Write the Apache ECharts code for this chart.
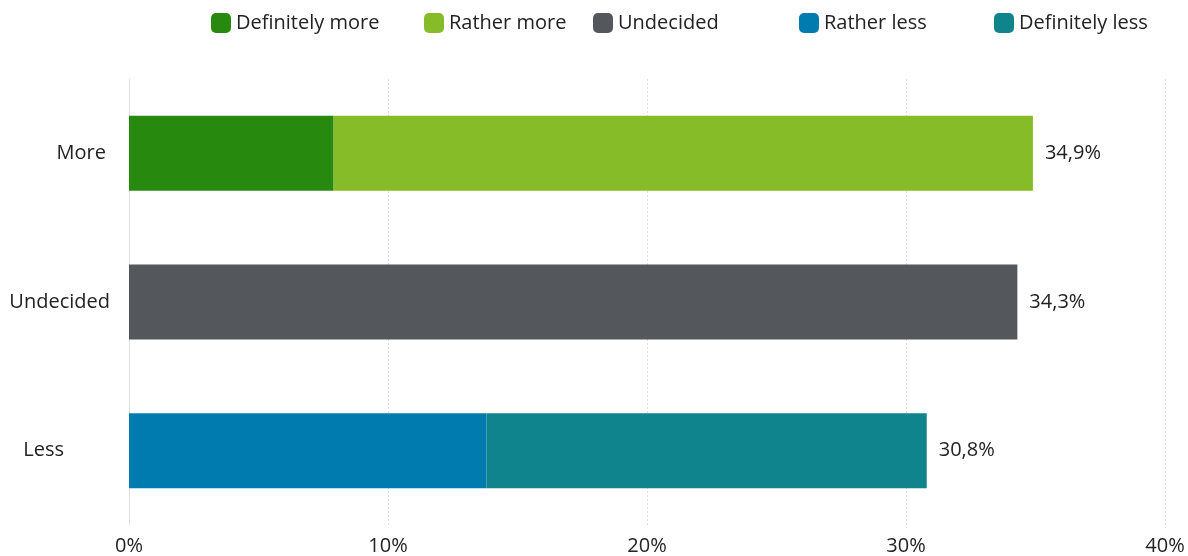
<!DOCTYPE html>
<html>
<head>
<meta charset="utf-8">
<script src="https://cdn.jsdelivr.net/npm/echarts@6/dist/echarts.min.js"></script>
<style>
  html, body { margin: 0; padding: 0; background: #fff; }
  #main { width: 1188px; height: 556px; }
</style>
</head>
<body>
<div id="main"></div>
<script>
// categories top to bottom
var categories = ['More', 'Undecided', 'Less'];
var seriesNames = ['Definitely more', 'Rather more', 'Undecided', 'Rather less', 'Definitely less'];
var colors = ['#28890f', '#86bc28', '#54575c', '#007bb0', '#0f848d'];
// values per series (null = no segment in that row)
var definitelyMore = [7.9, null, null];
var ratherMore = [27.0, null, null];
var undecided = [null, 34.3, null];
var ratherLess = [null, null, 13.8];
var definitelyLess = [null, null, 17.0];
var totals = ['34,9%', '34,3%', '30,8%'];
var tickLabels = ['0%', '10%', '20%', '30%', '40%'];
// legend left positions
var legendLefts = [206, 419, 588, 794, 989];

var font = 'Open Sans';
var fs = 20;
var myChart = echarts.init(document.getElementById('main'));

var values = [definitelyMore, ratherMore, undecided, ratherLess, definitelyLess];
// which series ends each row -> total label goes there
var lastIdx = [1, 2, 4];

var series = seriesNames.map(function (name, i) {
    return {
        name: name,
        type: 'bar',
        stack: 'total',
        barWidth: 75,
        itemStyle: { color: colors[i] },
        data: values[i],
        label: {
            show: lastIdx.indexOf(i) >= 0,
            position: 'right',
            distance: 12,
            color: '#222',
            fontFamily: font,
            fontSize: fs,
            formatter: function (p) {
                return lastIdx[p.dataIndex] === i ? totals[p.dataIndex] : '';
            }
        }
    };
});

var legends = seriesNames.map(function (name, i) {
    return {
        data: [name],
        left: legendLefts[i],
        top: 8,
        itemWidth: 20,
        itemHeight: 20,
        itemGap: 8,
        icon: 'roundRect',
        textStyle: { fontFamily: font, fontSize: fs, color: '#222' },
        selectedMode: false
    };
});

var option = {
    animation: false,
    legend: legends,
    grid: { left: 129, right: 23, top: 79, bottom: 31, containLabel: false },
    xAxis: {
        type: 'value',
        min: 0,
        max: 40,
        interval: 10,
        axisLine: { show: false },
        axisTick: { show: false },
        splitLine: { show: true, lineStyle: { color: '#dddddd', type: [2, 2] } },
        axisLabel: {
            margin: 11,
            color: '#222',
            fontFamily: font,
            fontSize: fs,
            formatter: function (v) { return tickLabels[v / 10]; }
        }
    },
    yAxis: {
        type: 'category',
        data: categories,
        inverse: true,
        axisLine: { show: true, lineStyle: { color: '#e0e0e0' } },
        axisTick: { show: false },
        axisLabel: {
            margin: 19,
            color: '#222',
            fontFamily: font,
            fontSize: fs,
            formatter: function (v) {
                return v === 'Less' ? '{less|' + v + '}' : (v === 'More' ? '{more|' + v + '}' : v);
            },
            rich: {
                less: { fontFamily: font, fontSize: fs, color: '#222', padding: [0, 46, 0, 0] },
                more: { fontFamily: font, fontSize: fs, color: '#222', padding: [0, 4, 0, 0] }
            }
        }
    },
    series: series
};

myChart.setOption(option);
</script>
</body>
</html>
